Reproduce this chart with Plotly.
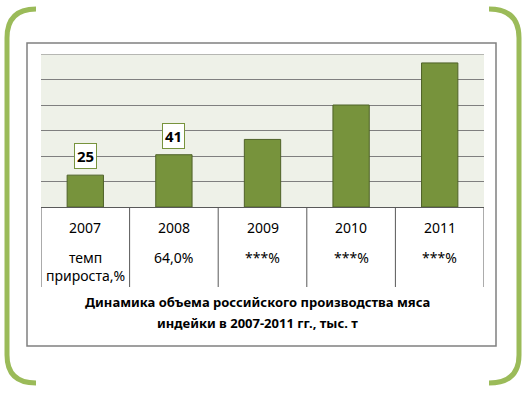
import plotly.graph_objects as go

# ---- data ----
years = ["2007", "2008", "2009", "2010", "2011"]
volumes = [25, 41, 53, 80, 113]
labelled_years = ["2007", "2008"]
labelled_values = [25, 41]
growth_rates = ["темп<br>прироста,%", "64,0%", "***%", "***%", "***%"]
title_lines = ["Динамика объема российского производства мяса",
               "индейки в 2007-2011 гг., тыс. т"]

W, H = 525, 393


def px(x):
    return x / W


def py(y):
    return 1 - y / H


FONT = "Noto Sans"
GREEN = "#77933C"

fig = go.Figure(go.Bar(
    x=years, y=volumes, width=0.41,
    marker=dict(color=GREEN, line=dict(color="#4F6228", width=1)),
    hoverinfo="x+y",
))

shapes = []
# outer frame
shapes.append(dict(type="rect", xref="paper", yref="paper",
                   x0=px(27), x1=px(496), y0=py(346), y1=py(43),
                   line=dict(color="#808080", width=1.5), layer="below"))
# top gridline
shapes.append(dict(type="line", xref="paper", yref="y",
                   x0=px(41), x1=px(484), y0=120, y1=120,
                   line=dict(color="#7F7F7F", width=1)))
# table vertical lines at category boundaries
for i in range(len(years) + 1):
    shapes.append(dict(type="line", xref="x", yref="paper",
                       x0=i - 0.5, x1=i - 0.5, y0=py(287), y1=py(207),
                       line=dict(color="#595959", width=1)))
# decorative green brackets
left = (f"M {px(36)},{py(9)} Q {px(7)},{py(9)} {px(7)},{py(38)} "
        f"L {px(7)},{py(355)} Q {px(7)},{py(383)} {px(36)},{py(383)}")
right = (f"M {px(489)},{py(9)} Q {px(519)},{py(9)} {px(519)},{py(38)} "
         f"L {px(519)},{py(355)} Q {px(519)},{py(383)} {px(489)},{py(383)}")
for p in (left, right):
    shapes.append(dict(type="path", xref="paper", yref="paper", path=p,
                       line=dict(color="#9BBB59", width=5)))

annotations = []
for yr, v in zip(labelled_years, labelled_values):
    annotations.append(dict(x=years.index(yr), y=v, xref="x", yref="y", text=f"<b>{v}</b>",
                            showarrow=False, yanchor="bottom", yshift=6,
                            bgcolor="white", bordercolor=GREEN, borderwidth=1,
                            borderpad=2, font=dict(family=FONT, size=15, color="black")))
for i, (yr, g) in enumerate(zip(years, growth_rates)):
    annotations.append(dict(x=i, y=py(227), xref="x", yref="paper", text=yr,
                            showarrow=False, yanchor="middle",
                            font=dict(family=FONT, size=14, color="black")))
    annotations.append(dict(x=i, y=py(246), xref="x", yref="paper", text=g,
                            showarrow=False, yanchor="top",
                            font=dict(family=FONT, size=14, color="black")))
for i, line in enumerate(title_lines):
    annotations.append(dict(x=px(257), y=py(302 + 21 * i), xref="paper", yref="paper",
                            text=f"<b>{line}</b>", showarrow=False, yanchor="middle",
                            font=dict(family=FONT, size=13, color="black")))

fig.update_layout(
    width=W, height=H,
    margin=dict(l=0, r=0, t=0, b=0),
    paper_bgcolor="white",
    plot_bgcolor="#EEF1E8",
    showlegend=False,
    bargap=0.59,
    xaxis=dict(type="category", range=[-0.5, 4.5], domain=[px(41), px(484)],
               showticklabels=False, ticks="", showgrid=False,
               showline=True, linecolor="#595959", linewidth=1, fixedrange=True),
    yaxis=dict(range=[0, 120], dtick=20, domain=[py(207), py(54)],
               showticklabels=False, ticks="", showgrid=True,
               gridcolor="#7F7F7F", gridwidth=1, zeroline=False, fixedrange=True),
    shapes=shapes,
    annotations=annotations,
)

fig.write_html("out.html", config={"displayModeBar": False},
               post_script="document.body.style.margin='0';document.body.style.overflow='hidden';")
